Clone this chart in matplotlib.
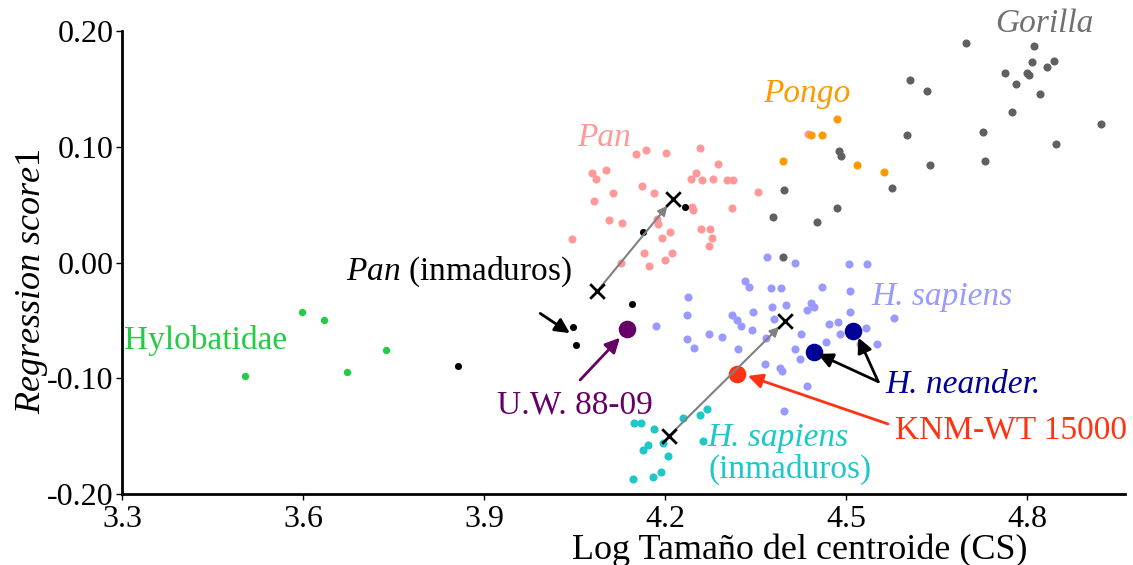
import matplotlib
matplotlib.use("Agg")
import matplotlib.pyplot as plt

plt.rcParams['font.family'] = ['Liberation Serif', 'DejaVu Serif']
plt.rcParams['mathtext.fontset'] = 'custom'
plt.rcParams['mathtext.rm'] = 'Liberation Serif'
plt.rcParams['mathtext.it'] = 'Liberation Serif:italic'

# --- data ---
pan_x = [4.152, 4.169, 4.201, 4.257, 4.078, 4.085, 4.102, 4.288, 4.251, 4.243,
         4.261, 4.280, 4.302, 4.313, 4.161, 4.181, 4.114, 4.082, 4.353, 4.245,
         4.246, 4.311, 4.107, 4.129, 4.187, 4.188, 4.208, 4.195, 4.259, 4.274,
         4.278, 4.273, 4.045, 4.165, 4.211, 4.200, 4.127, 4.173, 4.437]
pan_y = [0.094, 0.097, 0.095, 0.099, 0.077, 0.072, 0.080, 0.085, 0.077, 0.072,
         0.071, 0.072, 0.071, 0.071, 0.066, 0.060, 0.060, 0.053, 0.061, 0.048,
         0.045, 0.047, 0.037, 0.034, 0.038, 0.033, 0.026, 0.021, 0.029, 0.029,
         0.021, 0.014, 0.020, 0.008, 0.008, 0.002, 0.000, -0.003, 0.111]

gorilla_x = [4.698, 4.811, 4.808, 4.844, 4.832, 4.763, 4.800, 4.803, 4.781, 4.821,
             4.605, 4.634, 4.774, 4.922, 4.600, 4.726, 4.848, 4.488, 4.491, 4.639,
             4.730, 4.575, 4.397, 4.379, 4.452, 4.485, 4.396]
gorilla_y = [0.190, 0.187, 0.173, 0.174, 0.169, 0.164, 0.164, 0.162, 0.154, 0.146,
             0.158, 0.148, 0.130, 0.120, 0.110, 0.113, 0.102, 0.096, 0.092, 0.084,
             0.088, 0.064, 0.063, 0.039, 0.035, 0.047, 0.005]

pongo_x = [4.484, 4.442, 4.459, 4.395, 4.518, 4.562]
pongo_y = [0.124, 0.110, 0.110, 0.088, 0.084, 0.078]

sapiens_x = [4.368, 4.415, 4.504, 4.534, 4.332, 4.339, 4.375, 4.392, 4.460, 4.507,
             4.237, 4.377, 4.400, 4.441, 4.446, 4.435, 4.507, 4.236, 4.311, 4.345,
             4.319, 4.380, 4.325, 4.344, 4.185, 4.471, 4.486, 4.579, 4.490, 4.533,
             4.425, 4.272, 4.294, 4.236, 4.367, 4.467, 4.522, 4.551, 4.248, 4.320,
             4.415, 4.424, 4.366, 4.391, 4.393, 4.435, 4.397]
sapiens_y = [0.005, 0.000, -0.001, -0.001, -0.016, -0.021, -0.022, -0.022, -0.021, -0.025,
             -0.030, -0.038, -0.037, -0.035, -0.038, -0.041, -0.043, -0.045, -0.045, -0.043,
             -0.050, -0.049, -0.055, -0.058, -0.055, -0.053, -0.051, -0.048, -0.062, -0.057,
             -0.062, -0.062, -0.064, -0.066, -0.065, -0.069, -0.070, -0.070, -0.074, -0.075,
             -0.075, -0.083, -0.088, -0.091, -0.094, -0.107, -0.128]

sapiens_juv_x = [4.148, 4.160, 4.182, 4.197, 4.172, 4.163, 4.205, 4.230, 4.258, 4.269,
                 4.262, 4.193, 4.180, 4.146]
sapiens_juv_y = [-0.139, -0.139, -0.144, -0.156, -0.158, -0.162, -0.167, -0.134, -0.132, -0.127,
                 -0.154, -0.181, -0.185, -0.187]

hylo_x = [3.599, 3.635, 3.737, 3.673, 3.504]
hylo_y = [-0.043, -0.050, -0.076, -0.095, -0.098]

pan_juv_x = [3.857, 4.047, 4.052, 4.145, 4.164, 4.233]
pan_juv_y = [-0.089, -0.056, -0.071, -0.036, 0.026, 0.048]

neander_x = [4.511, 4.447]
neander_y = [-0.059, -0.077]
uw_x, uw_y = 4.137, -0.0575
knm_x, knm_y = 4.319, -0.096

# ontogenetic vectors: juvenile mean -> adult mean
pan_vec = [(4.087, -0.025), (4.2125, 0.0546)]
sap_vec = [(4.206, -0.150), (4.399, -0.0505)]

fig = plt.figure(figsize=(11.33, 5.65), dpi=100)
ax = fig.add_axes([0.1077, 0.1257, 0.8853, 0.8193])

s = 34
big = 160
ax.scatter(pan_x, pan_y, s=s, color='#ff9999', lw=0)
ax.scatter(gorilla_x, gorilla_y, s=s, color='#606060', lw=0)
ax.scatter(pongo_x, pongo_y, s=s, color='#ff9900', lw=0)
ax.scatter(sapiens_x, sapiens_y, s=s, color='#9999ff', lw=0)
ax.scatter(sapiens_juv_x, sapiens_juv_y, s=s, color='#1cc8c8', lw=0)
ax.scatter(hylo_x, hylo_y, s=28, color='#22cc44', lw=0)
ax.scatter(pan_juv_x, pan_juv_y, s=26, color='black', lw=0)
ax.scatter(neander_x, neander_y, s=big, color='#000099', lw=0, zorder=3)
ax.scatter([uw_x], [uw_y], s=big, color='#660066', lw=0, zorder=3)
ax.scatter([knm_x], [knm_y], s=big, color='#ff3311', lw=0, zorder=3)

for vec in (pan_vec, sap_vec):
    (x0, y0), (x1, y1) = vec
    ax.annotate('', xy=(x1, y1), xytext=(x0, y0),
                arrowprops=dict(arrowstyle='-|>', color='#808080', lw=1.5,
                                mutation_scale=14, shrinkA=0, shrinkB=6), zorder=4)
    ax.scatter([x0, x1], [y0, y1], marker='x', s=110, color='black', lw=2, zorder=5)


def pointer(tail, head, color):
    ax.annotate('', xy=head, xytext=tail,
                arrowprops=dict(arrowstyle='-|>', color=color, lw=2, mutation_scale=22,
                                shrinkA=0, shrinkB=0))


fs = 24
ax.text(4.099, 0.108, 'Pan', color='#ff9999', style='italic', fontsize=fs, ha='center', va='center')
ax.text(4.435, 0.146, 'Pongo', color='#ff9900', style='italic', fontsize=fs, ha='center', va='center')
ax.text(4.829, 0.206, 'Gorilla', color='#707070', style='italic', fontsize=fs, ha='center', va='center')
ax.text(3.439, -0.067, 'Hylobatidae', color='#22cc44', fontsize=fs, ha='center', va='center')
ax.text(4.659, -0.030, 'H. sapiens', color='#9999ff', style='italic', fontsize=fs, ha='center', va='center')
ax.text(4.387, -0.151, 'H. sapiens', color='#1cc8c8', style='italic', fontsize=fs, ha='center', va='center')
ax.text(4.407, -0.179, '(inmaduros)', color='#1cc8c8', fontsize=fs, ha='center', va='center')
ax.text(3.858, -0.008, r'$\it{Pan}$ (inmaduros)', fontsize=fs, ha='center', va='center')
ax.text(4.051, -0.123, 'U.W. 88-09', color='#660066', fontsize=fs, ha='center', va='center')
ax.text(4.773, -0.145, 'KNM-WT 15000', color='#ff3311', fontsize=fs, ha='center', va='center')
ax.text(4.694, -0.106, 'H. neander.', color='#000099', style='italic', fontsize=fs,
        ha='center', va='center')

pointer((3.993, -0.044), (4.042, -0.061), 'black')
pointer((4.059, -0.1015), (4.125, -0.065), '#660066')
pointer((4.569, -0.1395), (4.337, -0.098), '#ff3311')
for head in [(4.453, -0.079), (4.520, -0.065)]:
    pointer((4.553, -0.103), head, 'black')

ax.set_xlim(3.3, 4.962)
ax.set_ylim(-0.2, 0.2)
xticks = [3.3, 3.6, 3.9, 4.2, 4.5, 4.8]
yticks = [-0.2, -0.1, 0.0, 0.1, 0.2]
ax.set_xticks(xticks)
ax.set_xticklabels(['3.3', '3.6', '3.9', '4.2', '4.5', '4.8'])
ax.set_yticks(yticks)
ax.set_yticklabels(['-0.20', '-0.10', '0.00', '0.10', '0.20'])
ax.tick_params(labelsize=23, length=4, width=1, direction='out')
ax.tick_params(axis='x', pad=4)
ax.tick_params(axis='y', pad=2)
for side in ('top', 'right'):
    ax.spines[side].set_visible(False)
for side in ('left', 'bottom'):
    ax.spines[side].set_linewidth(2)

ax.set_xlabel('Log Tamaño del centroide (CS)', fontsize=26)
ax.xaxis.set_label_coords(0.676, -0.085)
ax.set_ylabel(r'$\it{Regression\ score}$1', fontsize=26)
ax.yaxis.set_label_coords(-0.072, 0.46)

fig.savefig('out.png', dpi=100)
